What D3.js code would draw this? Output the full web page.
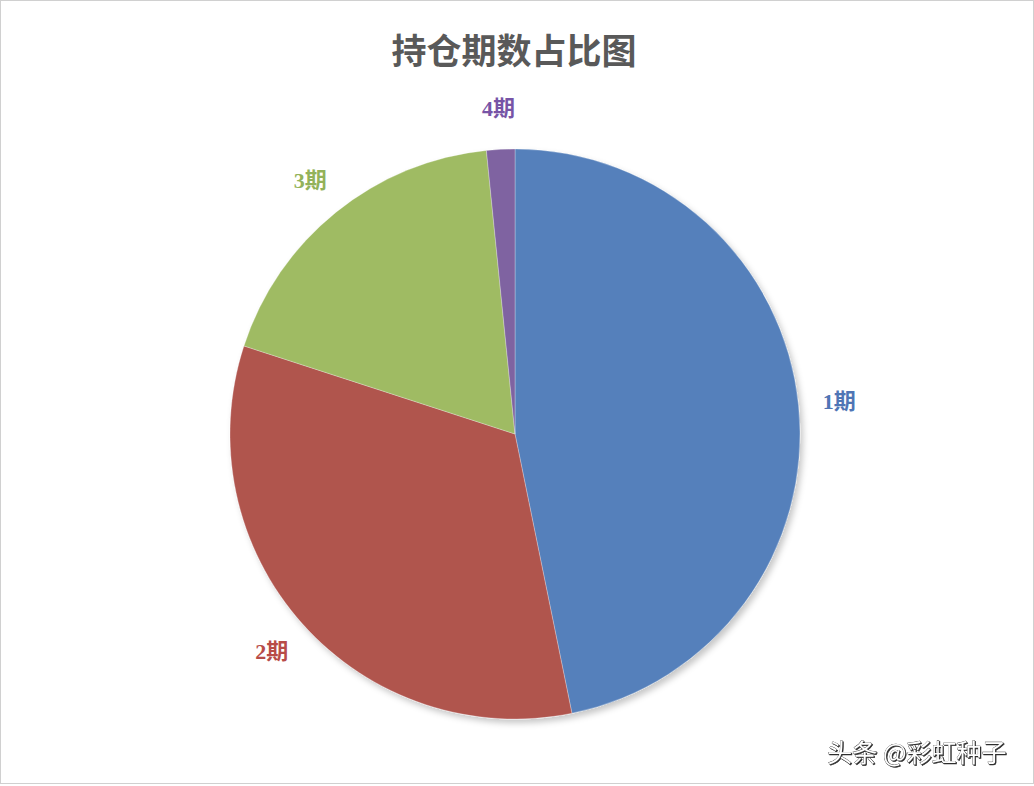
<!DOCTYPE html>
<html>
<head>
<meta charset="utf-8">
<script src="https://cdn.jsdelivr.net/npm/d3@7"></script>
<style>
  body { margin: 0; background: #fff; }
  svg { display: block; }
</style>
</head>
<body>
<div id="chart"></div>
<script>
// slice data (share in %)
const categories = ["1期", "2期", "3期", "4期"];
const shares = [46.8, 33.2, 18.4, 1.6];
const sliceColors = ["#5580bb", "#b0544e", "#9fbb64", "#7f63a1"];
const labelColors = ["#4f75b5", "#b84c48", "#93b25a", "#7754a6"];

const width = 1034, height = 786;
const cx = 515, cy = 434, radius = 285;

const svg = d3.select("#chart").append("svg")
    .attr("width", width)
    .attr("height", height);

// soft drop shadow under the pie
const defs = svg.append("defs");
const shadow = defs.append("filter")
    .attr("id", "shadow")
    .attr("x", "-10%").attr("y", "-10%")
    .attr("width", "120%").attr("height", "120%");
shadow.append("feDropShadow")
    .attr("dx", 3).attr("dy", 4)
    .attr("stdDeviation", 3)
    .attr("flood-color", "#000")
    .attr("flood-opacity", 0.22);

svg.append("rect")
    .attr("x", 0.5).attr("y", 0.5)
    .attr("width", width - 1).attr("height", height - 3)
    .attr("fill", "#fff")
    .attr("stroke", "#d0d0d0");

svg.append("text")
    .attr("x", 514)
    .attr("y", 48)
    .attr("text-anchor", "middle")
    .attr("dominant-baseline", "central")
    .attr("font-family", "'Noto Sans CJK SC', sans-serif")
    .attr("font-weight", "bold")
    .attr("font-size", 35)
    .attr("fill", "#595959")
    .text("持仓期数占比图");

const data = categories.map((c, i) => ({name: c, value: shares[i], color: sliceColors[i], label: labelColors[i]}));

const pie = d3.pie().sort(null).value(d => d.value);
const arc = d3.arc().innerRadius(0).outerRadius(radius);
const labelArc = d3.arc().innerRadius(326).outerRadius(326);

const g = svg.append("g")
    .attr("transform", "translate(" + cx + "," + cy + ")");

const arcs = pie(data);

g.append("g")
    .attr("filter", "url(#shadow)")
    .selectAll("path")
    .data(arcs)
    .enter().append("path")
    .attr("d", arc)
    .attr("fill", d => d.data.color)
    .attr("stroke", "#ffffff")
    .attr("stroke-opacity", 0.35)
    .attr("stroke-width", 0.8);

g.selectAll("text.lbl")
    .data(arcs)
    .enter().append("text")
    .attr("class", "lbl")
    .attr("transform", d => "translate(" + labelArc.centroid(d) + ")")
    .attr("text-anchor", "middle")
    .attr("dominant-baseline", "central")
    .attr("font-family", "'Liberation Serif', 'Noto Sans CJK SC', serif")
    .attr("font-weight", "bold")
    .attr("font-size", 22)
    .attr("fill", d => d.data.label)
    .text(d => d.data.name);

// watermark
svg.append("text")
    .attr("x", 917)
    .attr("y", 751)
    .attr("text-anchor", "middle")
    .attr("dominant-baseline", "central")
    .attr("font-family", "'Noto Sans CJK SC', sans-serif")
    .attr("font-size", 25)
    .attr("fill", "#ffffff")
    .attr("stroke", "#222")
    .attr("stroke-width", 0.6)
    .style("paint-order", "stroke")
    .style("filter", "drop-shadow(1px 1px 0.5px rgba(0,0,0,0.8))")
    .text("头条 @彩虹种子");
</script>
</body>
</html>
